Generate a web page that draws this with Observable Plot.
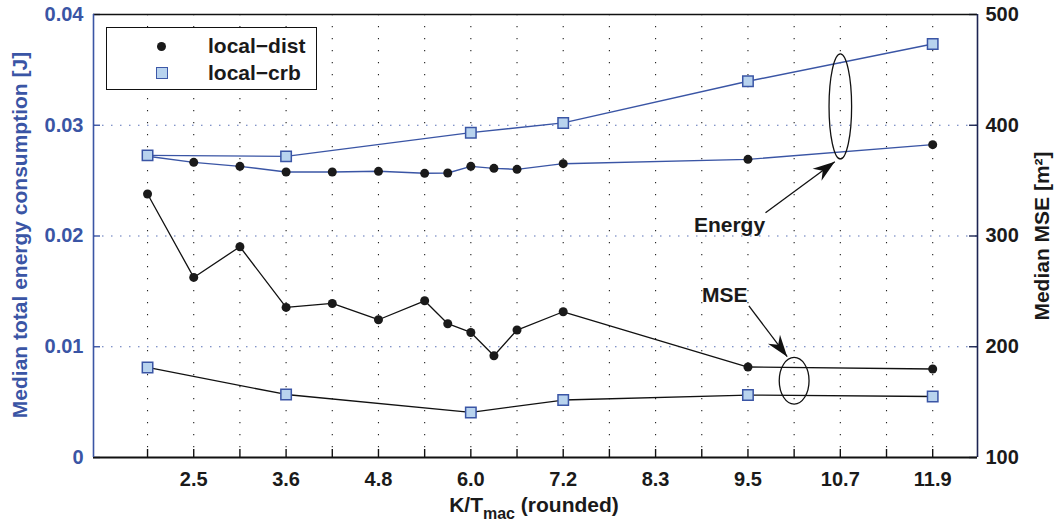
<!DOCTYPE html>
<html><head><meta charset="utf-8">
<script src="https://cdn.jsdelivr.net/npm/d3@7"></script>
<script src="https://cdn.jsdelivr.net/npm/@observablehq/plot@0.6"></script>
<style>
body{margin:0;background:#fff;font-family:"Liberation Sans",Arial,sans-serif;}
#wrap{position:relative;width:1054px;height:527px;overflow:hidden;}
#wrap svg{display:block;}
.t{position:absolute;font-weight:bold;font-size:21px;white-space:nowrap;line-height:21px;color:#1a1a1a;}
.leg{position:absolute;left:106px;top:27px;width:209px;height:61px;border:1.6px solid #111;background:#fff;}
.leg .row{position:absolute;left:0;width:100%;height:24px;}
.leg .lbl{position:absolute;left:101px;top:0;font-weight:bold;font-size:21px;line-height:24px;color:#1a1a1a;}
.leg .circ{position:absolute;left:50px;top:7.5px;width:9px;height:9px;border-radius:50%;background:#1a1a1a;}
.leg .sq{position:absolute;left:49px;top:6px;width:9.5px;height:9.5px;background:#b8d3ee;border:1.5px solid #3d58a8;}
</style></head><body><div id="wrap"></div>
<script>
// x positions are tick indices (0..17); labelled ticks carry the rounded K/T_mac values
const gridPos = [0,1,2,3,4,5,6,7,8,9,10,11,12,13,14,15,16,17];
const xTickPos = [1,3,5,7,9,11,13,15,17];
const xTickLabels = ["2.5","3.6","4.8","6.0","7.2","8.3","9.5","10.7","11.9"];
const energyTicks = [0,0.01,0.02,0.03,0.04];
const mseTicks = [100,200,300,400,500];

// local-dist
const distX = [0,1,2,3,4,5,6,6.5,7,7.5,8,9,13,17];
const distEnergy = [0.0272,0.02665,0.02629,0.02578,0.02578,0.02584,0.02566,0.02569,0.02629,0.02611,0.02602,0.02653,0.02692,0.02825];
const distMSE = [337.9,262.6,290.3,235.5,239.1,224.4,241.5,220.8,212.9,191.9,215.1,231.6,181.7,179.9];
// local-crb
const crbX = [0,3,7,9,13,17];
const crbEnergy = [0.02728,0.02719,0.02933,0.03021,0.03397,0.03734];
const crbMSE = [181.3,156.9,140.7,151.9,156.4,155.1];

// annotations
const annLabels = [{x:12.6,y:0.0210,t:"Energy"},{x:12.5,y:0.01465,t:"MSE"}];
const annArrows = [{x1:13.38,y1:0.0221,x2:14.88,y2:0.0267},{x1:13.02,y1:0.0137,x2:13.85,y2:0.0091}];
const annEllipses = [{x:15,y:0.0317,r:52.5,a:0.215},{x:14,y:0.00693,r:23.3,a:0.64}];

const BLUE = "#3a55a5", NAVY = "#1c2452", LIGHT = "#b8d3ee";
const W=1054,H=527,mL=93,mR=77,mT=14,mB=70;
const xDomain=[-1.17,17.97], yDomain=[0,0.04];
const mseToY = m => (m-100)/10000;   // right axis: 100..500 maps onto 0..0.04
const yToMse = y => Math.round(100 + y*10000);

const dist = distX.map((x,i)=>({x, e:distEnergy[i], m:mseToY(distMSE[i])}));
const crb = crbX.map((x,i)=>({x, e:crbEnergy[i], m:mseToY(crbMSE[i])}));

const xs = d3.scaleLinear(xDomain,[mL,W-mR]);
const ys = d3.scaleLinear(yDomain,[H-mB,mT]);
const heads = annArrows.map(d=>({x:d.x2,y:d.y2,
  ang: Math.atan2(ys(d.y2)-ys(d.y1), xs(d.x2)-xs(d.x1))*180/Math.PI}));

const arrowHead = {draw(ctx){ ctx.moveTo(0,0); ctx.lineTo(-22,-7.5); ctx.lineTo(-15,0); ctx.lineTo(-22,7.5); ctx.closePath(); }};
const ellipseSym = a => ({draw(ctx,size){
  const ry=Math.sqrt(size/Math.PI), rx=ry*a, k=0.5523;
  ctx.moveTo(rx,0);
  ctx.bezierCurveTo(rx,ry*k,rx*k,ry,0,ry);
  ctx.bezierCurveTo(-rx*k,ry,-rx,ry*k,-rx,0);
  ctx.bezierCurveTo(-rx,-ry*k,-rx*k,-ry,0,-ry);
  ctx.bezierCurveTo(rx*k,-ry,rx,-ry*k,rx,0);
  ctx.closePath();
}});

const frameW = W-mL-mR, frameH = H-mT-mB;
const font = {fontSize:20, fontWeight:"bold"};
const plot = Plot.plot({
  width:W, height:H, marginLeft:mL, marginRight:mR, marginTop:mT, marginBottom:mB,
  style:{fontFamily:"'Liberation Sans', Arial, sans-serif", background:"white", overflow:"visible"},
  x:{domain:xDomain, axis:null},
  y:{domain:yDomain, axis:null},
  marks:[
    Plot.gridX({ticks:gridPos, stroke:"#222", strokeOpacity:1, strokeWidth:1.1, strokeDasharray:"1.2,10.8"}),
    Plot.gridY({ticks:[0.01,0.02,0.03], stroke:"#5a72b8", strokeOpacity:1, strokeWidth:1.1, strokeDasharray:"1.5,7.5"}),
    // inward tick marks
    Plot.tickX(gridPos, {x:d=>d, insetTop:frameH-8, stroke:"#111", strokeWidth:1.4}),
    Plot.tickY(energyTicks, {y:d=>d, insetRight:frameW-7, stroke:BLUE, strokeWidth:1.4}),
    Plot.tickY(mseTicks.map(mseToY), {y:d=>d, insetLeft:frameW-8, stroke:NAVY, strokeWidth:1.4}),
    // axis labels
    Plot.axisX({ticks:xTickPos, tickSize:0, tickPadding:14, tickFormat:d=>xTickLabels[xTickPos.indexOf(d)], label:null, fill:"#1a1a1a", ...font}),
    Plot.axisY({anchor:"left", ticks:energyTicks, tickSize:0, tickPadding:10, tickFormat:d=>d===0?"0":d.toFixed(2), label:null, fill:BLUE, ...font}),
    Plot.axisY({anchor:"right", ticks:mseTicks.map(mseToY), tickSize:0, tickPadding:8, tickFormat:yToMse, label:null, fill:"#1a1a1a", ...font}),
    // frame
    Plot.ruleY([yDomain[1]], {stroke:"#111", strokeWidth:1.5}),
    Plot.ruleY([yDomain[0]], {stroke:"#111", strokeWidth:2}),
    Plot.ruleX([xDomain[0]], {stroke:BLUE, strokeWidth:1.6}),
    Plot.ruleX([xDomain[1]], {stroke:NAVY, strokeWidth:1.6}),
    // energy (left axis)
    Plot.line(dist, {x:"x", y:"e", stroke:BLUE, strokeWidth:1.4}),
    Plot.line(crb, {x:"x", y:"e", stroke:BLUE, strokeWidth:1.4}),
    // MSE (right axis)
    Plot.line(dist, {x:"x", y:"m", stroke:"#111", strokeWidth:1.3}),
    Plot.line(crb, {x:"x", y:"m", stroke:"#111", strokeWidth:1.3}),
    Plot.dot(dist, {x:"x", y:"e", r:4.5, fill:"#1a1a1a"}),
    Plot.dot(dist, {x:"x", y:"m", r:4.5, fill:"#1a1a1a"}),
    Plot.dot(crb, {x:"x", y:"e", symbol:"square", r:5.9, fill:LIGHT, stroke:BLUE, strokeWidth:1.5}),
    Plot.dot(crb, {x:"x", y:"m", symbol:"square", r:5.9, fill:LIGHT, stroke:BLUE, strokeWidth:1.5}),
    // annotations
    Plot.dot([annEllipses[0]], {x:"x", y:"y", r:annEllipses[0].r, symbol:ellipseSym(annEllipses[0].a), fill:"none", stroke:"#111", strokeWidth:1.3}),
    Plot.dot([annEllipses[1]], {x:"x", y:"y", r:annEllipses[1].r, symbol:ellipseSym(annEllipses[1].a), fill:"none", stroke:"#111", strokeWidth:1.3}),
    Plot.link(annArrows, {x1:"x1", y1:"y1", x2:"x2", y2:"y2", stroke:"#111", strokeWidth:1.3}),
    Plot.dot(heads, {x:"x", y:"y", rotate:"ang", symbol:arrowHead, r:5, fill:"#111", stroke:"none"}),
    Plot.text(annLabels, {x:"x", y:"y", text:"t", fontSize:21, fontWeight:"bold", fill:"#1a1a1a"})
  ]
});
const wrap = document.getElementById("wrap");
wrap.appendChild(plot);

wrap.insertAdjacentHTML("beforeend", `
<div class="leg">
  <div class="row" style="top:6px"><span class="circ"></span><span class="lbl">local\u2212dist</span></div>
  <div class="row" style="top:33px"><span class="sq"></span><span class="lbl">local\u2212crb</span></div>
</div>
<div class="t" style="left:19px;top:235px;transform:translate(-50%,-50%) rotate(-90deg);color:${BLUE}">Median total energy consumption [J]</div>
<div class="t" style="left:1041px;top:236px;transform:translate(-50%,-50%) rotate(-90deg);">Median MSE [m\u00b2]</div>
<div class="t" style="left:534px;top:494px;transform:translateX(-50%);">K/T<sub style="font-size:16px;vertical-align:-7px;line-height:0">mac</sub> (rounded)</div>
`);
</script>
</body></html>
